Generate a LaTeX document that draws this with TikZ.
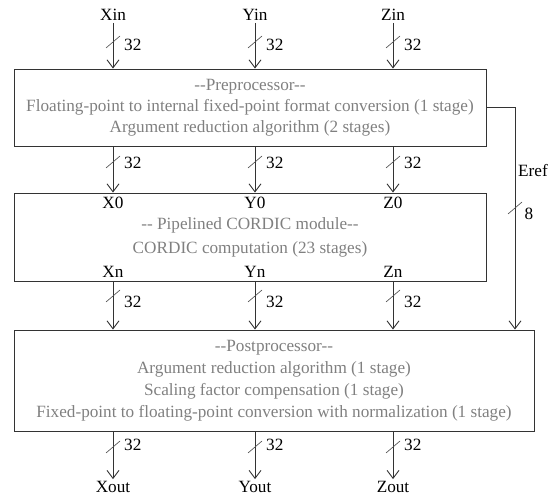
\documentclass[tikz,border=0pt]{standalone}
\usepackage{fontspec}
\setmainfont{Liberation Serif}
\usetikzlibrary{arrows.meta}

\begin{document}
\begin{tikzpicture}[x=1pt,y=-1pt,
    font=\fontsize{17.2}{21}\selectfont,
    stagebox/.style={draw=black!80, line width=0.9pt, align=center, text=black!50},
    sig/.style={text=black, inner sep=2pt},
    bus/.style={draw=black!70, line width=0.6pt},
    flow/.style={draw=black!80, line width=0.9pt, -{Straight Barb[length=8pt,width=12pt]}}]

    \useasboundingbox (0,0) rectangle (558,497);

    % the three stages
    \node[stagebox, minimum width=472pt, minimum height=77pt] (pre) at (250,107.5)
      {{-}{-}Preprocessor{-}{-}\\
       Floating-point to internal fixed-point format conversion (1 stage)\\
       Argument reduction algorithm (2 stages)};
    \node[stagebox, minimum width=472pt, minimum height=88pt,
          font=\fontsize{17.2}{24}\selectfont] (mid) at (250,237)
      {{-}{-} Pipelined CORDIC module{-}{-}\\
       CORDIC computation (23 stages)};
    \node[stagebox, minimum width=520pt, minimum height=101pt,
          font=\fontsize{17.2}{22}\selectfont] (post) at (274,380.5)
      {{-}{-}Postprocessor{-}{-}\\
       Argument reduction algorithm (1 stage)\\
       Scaling factor compensation (1 stage)\\
       Fixed-point to floating-point conversion with normalization (1 stage)};

    % data paths
    \foreach \col/\v in {113/X, 255/Y, 393/Z} {
      \node[sig] (\v in)  at (\col,15)  {\v in};
      \node[sig] (\v 0)   at (\col,203) {\v0};
      \node[sig] (\v n)   at (\col,272) {\v n};
      \node[sig] (\v out) at (\col,487) {\v out};
      \draw[flow] (\v in) -- (\v in |- pre.north);
      \draw[flow] (\v in |- pre.south) -- (\v 0 |- mid.north);
      \draw[flow] (\v n |- mid.south) -- (\v n |- post.north);
      \draw[flow] (\v out |- post.south) -- (\v out);
      % bus width
      \foreach \y in {42,162,296,447}
        \draw[bus] (\col-7,\y+6) -- (\col+7,\y-6);
      \foreach \y in {45,163,302,445}
        \node[sig, anchor=west] at (\col+9,\y) {32};
    }

    % exponent path
    \coordinate (eref) at (515,107.5);
    \draw[flow] (pre.east) -- (eref) -- (eref |- post.north);
    \draw[bus] (508,214) -- (522,202);
    \node[sig, anchor=west] (ereflbl) at (516,171) {Eref};
    \node[sig] (erefw) at (529,214) {8};
\end{tikzpicture}
\end{document}
